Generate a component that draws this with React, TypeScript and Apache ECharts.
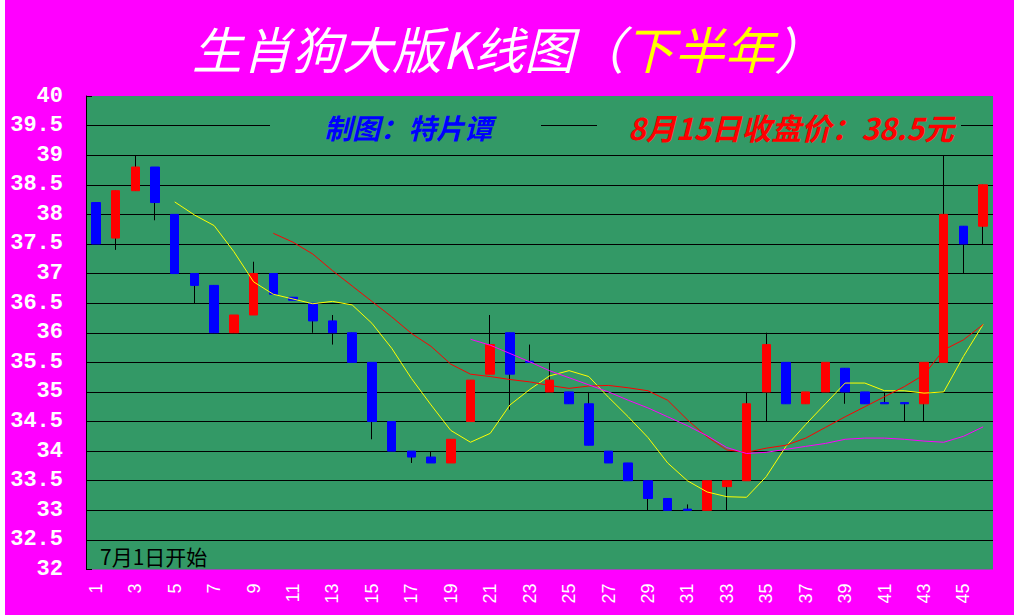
import React, { useEffect, useRef } from "react";
import * as echarts from "echarts";

const days: string[] = [
  "1","2","3","4","5","6","7","8","9","10","11","12","13","14","15","16","17","18","19","20","21","22","23",
  "24","25","26","27","28","29","30","31","32","33","34","35","36","37","38","39","40","41","42","43","44","45","46",
];

const opens: number[] = [
  38.2, 37.6, 38.4, 38.8, 38.0, 37.0, 36.8, 36.0, 36.3, 37.0, 36.6, 36.5, 36.2, 36.0, 35.5, 34.5, 34.0, 33.9, 33.8, 34.5, 35.3, 36.0, 35.52,
  35.0, 35.0, 34.8, 34.0, 33.8, 33.5, 33.2, 33.02, 33.0, 33.4, 33.5, 35.0, 35.5, 34.8, 35.0, 35.4, 35.0, 34.82, 34.82, 34.8, 35.5, 37.8, 37.8,
];
const closes: number[] = [
  37.5, 38.4, 38.8, 38.2, 37.0, 36.8, 36.0, 36.3, 37.0, 36.65, 36.55, 36.2, 36.0, 35.5, 34.5, 34.0, 33.9, 33.8, 34.2, 35.2, 35.8, 35.3, 35.5,
  35.2, 34.8, 34.1, 33.8, 33.5, 33.2, 33.0, 33.0, 33.5, 33.5, 34.8, 35.8, 34.8, 35.0, 35.5, 35.0, 34.8, 34.8, 34.8, 35.5, 38.0, 37.5, 38.5,
];
const lows: number[] = [
  37.5, 37.4, 38.4, 37.9, 37.0, 36.5, 36.0, 36.0, 36.3, 36.65, 36.55, 36.0, 35.8, 35.5, 34.2, 34.0, 33.8, 33.8, 33.8, 34.5, 35.3, 34.7, 35.5,
  35.0, 34.8, 34.1, 33.8, 33.5, 33.0, 33.0, 33.0, 33.0, 33.0, 33.5, 34.5, 34.8, 34.8, 35.0, 34.8, 34.8, 34.8, 34.5, 34.5, 35.5, 37.0, 37.5,
];
const highs: number[] = [
  38.2, 38.4, 39.0, 38.8, 38.0, 37.0, 36.8, 36.3, 37.2, 37.0, 36.6, 36.5, 36.3, 36.0, 35.5, 34.5, 34.0, 34.0, 34.2, 35.2, 36.3, 36.0, 35.8,
  35.5, 35.0, 35.0, 34.0, 33.8, 33.5, 33.2, 33.1, 33.5, 33.5, 35.0, 36.0, 35.5, 35.0, 35.5, 35.4, 35.0, 35.0, 34.82, 35.5, 39.0, 37.8, 38.5,
];

const ma5: (number | null)[] = [
  null, null, null, null, 38.21, 37.99, 37.81, 37.37, 36.86, 36.65, 36.57, 36.49, 36.53, 36.47, 36.16, 35.74, 35.23, 34.78, 34.35, 34.15, 34.3, 34.78, 35.04,
  35.27, 35.36, 35.26, 34.91, 34.58, 34.23, 33.8, 33.5, 33.31, 33.23, 33.22, 33.57, 34.08, 34.45, 34.8, 35.15, 35.15, 35.02, 35.02, 34.98, 35.0, 35.6, 36.14,
];
const ma10: (number | null)[] = [
  null, null, null, null, null, null, null, null, null, 37.68, 37.53, 37.33, 37.05, 36.79, 36.53, 36.27, 35.99, 35.77, 35.47, 35.3, 35.26, 35.21, 35.17,
  35.11, 35.06, 35.1, 35.11, 35.07, 35.02, 34.86, 34.53, 34.24, 34.02, 33.98, 34.05, 34.1, 34.22, 34.4, 34.58, 34.75, 34.92, 35.09, 35.29, 35.71, 35.88, 36.14,
];
const ma20: (number | null)[] = [
  null, null, null, null, null, null, null, null, null, null, null, null, null, null, null, null, null, null, null, 35.89, 35.79, 35.65, 35.51,
  35.36, 35.24, 35.12, 35.0, 34.86, 34.73, 34.58, 34.43, 34.26, 34.06, 33.96, 33.98, 34.03, 34.08, 34.13, 34.2, 34.22, 34.22, 34.2, 34.17, 34.15, 34.25, 34.41,
];

const titleMain = "生肖狗大版K线图（";
const titleHalf = "下半年";
const titleEnd = "）";
const authorText = "制图：特片谭";
const closeText = "8月15日收盘价：38.5元";
const startText = "7月1日开始";

const CJK = "'Noto Sans CJK SC', 'Noto Sans', sans-serif";

export default function App() {
  const ref = useRef<HTMLDivElement>(null);

  useEffect(() => {
    if (!ref.current) return;
    const chart = echarts.init(ref.current, undefined, { renderer: "svg" });

    const wickData = days.map((_, i) => [opens[i], closes[i], lows[i], highs[i]]);
    const bodyData = days.map((_, i) => [
      opens[i],
      closes[i],
      Math.min(opens[i], closes[i]),
      Math.max(opens[i], closes[i]),
    ]);

    chart.setOption({
      animation: false,
      backgroundColor: "#FF00FF",
      title: {
        text: `{w|${titleMain}}{y|${titleHalf}}{w|${titleEnd}}`,
        left: 182,
        top: 17,
        textStyle: {
          rich: {
            w: { color: "#FFFFFF", fontSize: 50, fontStyle: "italic", fontWeight: "normal", fontFamily: CJK },
            y: { color: "#FFFF00", fontSize: 50, fontStyle: "italic", fontWeight: "normal", fontFamily: CJK },
          },
        },
      },
      grid: {
        left: 81,
        right: 21,
        top: 96,
        bottom: 45.5,
        show: true,
        backgroundColor: "#339966",
        borderWidth: 0,
      },
      xAxis: {
        type: "category",
        data: days,
        boundaryGap: true,
        axisLine: { show: false },
        axisTick: { show: false },
        splitLine: { show: false },
        axisLabel: {
          interval: 1,
          rotate: 90,
          color: "#FFFFFF",
          fontSize: 18,
          fontFamily: "'Liberation Sans', Arial, sans-serif",
          margin: 14,
        },
      },
      yAxis: {
        type: "value",
        min: 32,
        max: 40,
        interval: 0.5,
        axisLine: { show: true, lineStyle: { color: "#000000", width: 1 } },
        axisTick: { show: true, inside: true, length: 6, lineStyle: { color: "#000000" } },
        axisLabel: {
          color: "#FFFFFF",
          fontSize: 22,
          fontWeight: "bold",
          fontFamily: "'Liberation Mono', 'DejaVu Sans Mono', monospace",
          margin: 23,
        },
        splitLine: {
          show: true,
          showMinLine: false,
          showMaxLine: false,
          lineStyle: { color: "#000000", width: 1 },
        },
      },
      graphic: [
        {
          type: "rect",
          z: 100,
          shape: { x: 265, y: 117, width: 271, height: 18 },
          style: { fill: "#339966" },
        },
        {
          type: "rect",
          z: 100,
          shape: { x: 592, y: 117, width: 364, height: 18 },
          style: { fill: "#339966" },
        },
        {
          type: "text",
          z: 101,
          x: 403,
          y: 127,
          style: {
            text: authorText,
            fill: "#0000FF",
            font: `italic bold 28px ${CJK}`,
            textAlign: "center",
            textVerticalAlign: "middle",
          },
        },
        {
          type: "text",
          z: 101,
          x: 786,
          y: 127,
          style: {
            text: closeText,
            fill: "#FF0000",
            font: `italic bold 30px ${CJK}`,
            textAlign: "center",
            textVerticalAlign: "middle",
          },
        },
        {
          type: "text",
          z: 101,
          x: 95,
          y: 556,
          style: {
            text: startText,
            fill: "#000000",
            font: `normal 21px ${CJK}`,
            textAlign: "left",
            textVerticalAlign: "middle",
          },
        },
      ],
      series: [
        {
          name: "wick",
          type: "candlestick",
          data: wickData,
          barWidth: 1,
          itemStyle: {
            color: "#000000",
            color0: "#000000",
            borderColor: "#000000",
            borderColor0: "#000000",
            borderWidth: 1,
          },
          z: 2,
        },
        {
          name: "body",
          type: "candlestick",
          data: bodyData,
          barWidth: 9,
          itemStyle: {
            color: "#FF0000",
            color0: "#0000FF",
            borderColor: "#FF0000",
            borderColor0: "#0000FF",
            borderWidth: 1,
          },
          z: 3,
        },
        {
          name: "MA5",
          type: "line",
          data: ma5,
          symbol: "none",
          lineStyle: { color: "#FFFF00", width: 1 },
          z: 4,
        },
        {
          name: "MA10",
          type: "line",
          data: ma10,
          symbol: "none",
          lineStyle: { color: "#FF0000", width: 1 },
          z: 4,
        },
        {
          name: "MA20",
          type: "line",
          data: ma20,
          symbol: "none",
          lineStyle: { color: "#FF00FF", width: 1 },
          z: 4,
        },
      ],
    });

    return () => chart.dispose();
  }, []);

  return (
    <div style={{ position: "absolute", left: 0, top: 0, width: 1020, height: 615, background: "#FFFFFF" }}>
      <div ref={ref} style={{ position: "absolute", left: 5, top: 0, width: 1009, height: 615 }} />
    </div>
  );
}
